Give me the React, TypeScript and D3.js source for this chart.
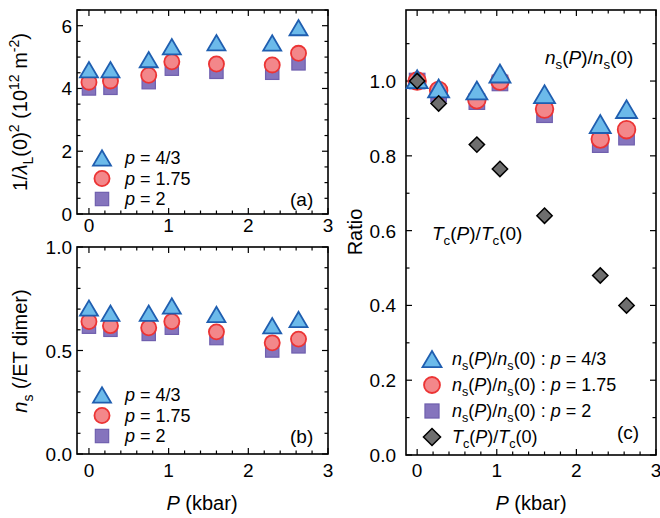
import React, { useRef, useEffect } from "react";
import * as d3 from "d3";

// pressure points (kbar)
const P = [0, 0.27, 0.75, 1.04, 1.6, 2.3, 2.63];

// (a) 1/lambda_L(0)^2 in 10^12 m^-2
const lam43 = [4.6, 4.6, 4.92, 5.33, 5.46, 5.45, 5.94];
const lam175 = [4.2, 4.24, 4.42, 4.85, 4.78, 4.75, 5.12];
const lam2 = [4.0, 4.02, 4.2, 4.63, 4.53, 4.5, 4.8];

// (b) n_s per ET dimer
const ns43 = [0.705, 0.68, 0.68, 0.715, 0.674, 0.62, 0.65];
const ns175 = [0.64, 0.62, 0.61, 0.64, 0.59, 0.537, 0.555];
const ns2 = [0.615, 0.6, 0.58, 0.61, 0.56, 0.5, 0.52];

// (c) ratios
const r43 = [1.005, 0.98, 0.975, 1.02, 0.965, 0.885, 0.925];
const r175 = [1.0, 0.975, 0.95, 1.0, 0.925, 0.845, 0.87];
const r2 = [1.0, 0.965, 0.945, 0.995, 0.91, 0.83, 0.85];
const tcRatio = [1.0, 0.94, 0.83, 0.765, 0.64, 0.48, 0.4];

const xTicks = [0, 1, 2, 3];
const aTicks = [0, 2, 4, 6];
const bTicks = [0, 0.5, 1.0];
const cTicks = [0, 0.2, 0.4, 0.6, 0.8, 1.0];

const FONT = "'Liberation Sans', Arial, sans-serif";
const TRI = { fill: "#6cbaea", stroke: "#1f5eb0" };
const CIR = { fill: "#f3878a", stroke: "#ec3434" };
const SQR = { fill: "#8574bd", stroke: "#6f5fae" };
const DIA = { fill: "#6e6e6e", stroke: "#000" };

type Part = { t: string; i?: boolean; sub?: boolean; sup?: boolean };

const rich = (sel: any, parts: Part[], size: number) => {
  let shift = 0;
  parts.forEach((p) => {
    const target = p.sub ? size * 0.28 : p.sup ? -size * 0.4 : 0;
    sel
      .append("tspan")
      .attr("dy", target - shift)
      .attr("font-size", p.sub || p.sup ? size * 0.7 : size)
      .attr("font-style", p.i ? "italic" : "normal")
      .text(p.t);
    shift = target;
  });
};

const marker = (g: any, kind: string, cx: number, cy: number, s: number) => {
  if (kind === "tri") {
    const w = s, h = s * 0.85;
    g.append("path")
      .attr("d", `M${cx - w / 2},${cy + h / 2}L${cx + w / 2},${cy + h / 2}L${cx},${cy - h / 2}Z`)
      .attr("fill", TRI.fill).attr("stroke", TRI.stroke).attr("stroke-width", 1.8).attr("stroke-linejoin", "miter");
  } else if (kind === "cir") {
    g.append("circle").attr("cx", cx).attr("cy", cy).attr("r", s * 0.42)
      .attr("fill", CIR.fill).attr("stroke", CIR.stroke).attr("stroke-width", 1.8);
  } else if (kind === "sqr") {
    const a = s * 0.74;
    g.append("rect").attr("x", cx - a / 2).attr("y", cy - a / 2).attr("width", a).attr("height", a)
      .attr("fill", SQR.fill).attr("stroke", SQR.stroke).attr("stroke-width", 1.2);
  } else {
    const r = s * 0.45;
    g.append("path")
      .attr("d", `M${cx},${cy - r}L${cx + r},${cy}L${cx},${cy + r}L${cx - r},${cy}Z`)
      .attr("fill", DIA.fill).attr("stroke", DIA.stroke).attr("stroke-width", 1.5);
  }
};

const frame = (
  g: any, x: any, y: any,
  yMajor: number[], yMinorStep: number, yFmt: (v: number) => string,
  labelGap: number, xLabelY: number
) => {
  const [x0, x1] = x.range();
  const [y0, y1] = y.range();
  const xMinor = d3.range(0, 3.001, 0.2);
  const yMinor = d3.range(0, y.domain()[1] + 1e-6, yMinorStep);
  const t = g.append("g").attr("stroke", "#000").attr("stroke-width", 1.2);
  xMinor.forEach((v) => {
    const L = xTicks.some((m) => Math.abs(m - v) < 1e-6) ? 6 : 3.5;
    t.append("line").attr("x1", x(v)).attr("x2", x(v)).attr("y1", y0).attr("y2", y0 - L);
    t.append("line").attr("x1", x(v)).attr("x2", x(v)).attr("y1", y1).attr("y2", y1 + L);
  });
  yMinor.forEach((v) => {
    const L = yMajor.some((m) => Math.abs(m - v) < 1e-6) ? 6 : 3.5;
    t.append("line").attr("y1", y(v)).attr("y2", y(v)).attr("x1", x0).attr("x2", x0 + L);
    t.append("line").attr("y1", y(v)).attr("y2", y(v)).attr("x1", x1).attr("x2", x1 - L);
  });
  g.append("rect").attr("x", x0).attr("y", y1).attr("width", x1 - x0).attr("height", y0 - y1)
    .attr("fill", "none").attr("stroke", "#000").attr("stroke-width", 1.6);
  yMajor.forEach((v) => {
    g.append("text").attr("x", x0 - labelGap).attr("y", y(v) + 7).attr("text-anchor", "end")
      .attr("font-size", 19).text(yFmt(v));
  });
  xTicks.forEach((v) => {
    g.append("text").attr("x", x(v)).attr("y", xLabelY).attr("text-anchor", "middle")
      .attr("font-size", 19).text(v);
  });
};

const App = () => {
  const svgRef = useRef<SVGSVGElement>(null);

  useEffect(() => {
    const svg = d3.select(svgRef.current);
    svg.selectAll("*").remove();
    svg.attr("font-family", FONT);

    // ---------- panel (a)
    const xa = d3.scaleLinear().domain([-0.15, 3]).range([77, 328]);
    const ya = d3.scaleLinear().domain([0, 6.5]).range([214, 10]);
    const ga = svg.append("g");
    frame(ga, xa, ya, aTicks, 0.5, (v) => String(v), 5, 232);
    [[lam2, "sqr"], [lam175, "cir"], [lam43, "tri"]].forEach(([arr, k]: any) => {
      arr.forEach((v: number, i: number) => marker(ga, k, xa(P[i]), ya(v), 18));
    });
    const legA = [["tri", "4/3"], ["cir", "1.75"], ["sqr", "2"]];
    legA.forEach(([k, lab], i) => {
      marker(ga, k, 102, 158 + i * 20.5, 18);
      const tx = ga.append("text").attr("x", 125).attr("y", 164 + i * 20.5).attr("font-size", 18);
      rich(tx, [{ t: "p", i: true }, { t: ` = ${lab}` }], 18);
    });
    ga.append("text").attr("x", 290).attr("y", 206).attr("font-size", 19).text("(a)");
    const la = ga.append("text").attr("transform", "translate(27,112) rotate(-90)")
      .attr("text-anchor", "middle").attr("font-size", 20);
    rich(la, [
      { t: "1/" }, { t: "λ", i: true }, { t: "L", sub: true }, { t: "(0)" }, { t: "2", sup: true },
      { t: " (10" }, { t: "12", sup: true }, { t: " m" }, { t: "-2", sup: true }, { t: ")" },
    ], 20);

    // ---------- panel (b)
    const yb = d3.scaleLinear().domain([0, 1]).range([454, 247]);
    const gb = svg.append("g");
    frame(gb, xa, yb, bTicks, 0.1, (v) => v.toFixed(1), 5, 477);
    [[ns2, "sqr"], [ns175, "cir"], [ns43, "tri"]].forEach(([arr, k]: any) => {
      arr.forEach((v: number, i: number) => marker(gb, k, xa(P[i]), yb(v), 18));
    });
    legA.forEach(([k, lab], i) => {
      marker(gb, k, 102, 395 + i * 20.5, 18);
      const tx = gb.append("text").attr("x", 125).attr("y", 401 + i * 20.5).attr("font-size", 18);
      rich(tx, [{ t: "p", i: true }, { t: ` = ${lab}` }], 18);
    });
    gb.append("text").attr("x", 290).attr("y", 443).attr("font-size", 19).text("(b)");
    const lb = gb.append("text").attr("transform", "translate(27,351) rotate(-90)")
      .attr("text-anchor", "middle").attr("font-size", 20);
    rich(lb, [{ t: "n", i: true }, { t: "s", sub: true }, { t: " (/ET dimer)" }], 20);
    const xb = gb.append("text").attr("x", 202).attr("y", 510).attr("text-anchor", "middle").attr("font-size", 20);
    rich(xb, [{ t: "P", i: true }, { t: " (kbar)" }], 20);

    // ---------- panel (c)
    const xc = d3.scaleLinear().domain([-0.14, 3]).range([406, 656]);
    const yc = d3.scaleLinear().domain([0, 1.19]).range([455, 10]);
    const gc = svg.append("g");
    frame(gc, xc, yc, cTicks, 0.1, (v) => v.toFixed(1), 10, 477);
    [[r2, "sqr"], [r175, "cir"], [r43, "tri"], [tcRatio, "dia"]].forEach(([arr, k]: any) => {
      arr.forEach((v: number, i: number) => marker(gc, k, xc(P[i]), yc(v), k === "dia" ? 17 : 21));
    });
    const nsPart: Part[] = [
      { t: "n", i: true }, { t: "s", sub: true }, { t: "(" }, { t: "P", i: true }, { t: ")/" },
      { t: "n", i: true }, { t: "s", sub: true }, { t: "(0)" },
    ];
    const tcPart: Part[] = [
      { t: "T", i: true }, { t: "c", sub: true }, { t: "(" }, { t: "P", i: true }, { t: ")/" },
      { t: "T", i: true }, { t: "c", sub: true }, { t: "(0)" },
    ];
    const legC: [string, Part[]][] = [
      ["tri", [...nsPart, { t: " : " }, { t: "p", i: true }, { t: " = 4/3" }]],
      ["cir", [...nsPart, { t: " : " }, { t: "p", i: true }, { t: " = 1.75" }]],
      ["sqr", [...nsPart, { t: " : " }, { t: "p", i: true }, { t: " = 2" }]],
      ["dia", tcPart],
    ];
    legC.forEach(([k, parts], i) => {
      marker(gc, k, 432, 359 + i * 26, k === "dia" ? 19 : 19);
      const tx = gc.append("text").attr("x", 452).attr("y", 365 + i * 26).attr("font-size", 18);
      rich(tx, parts, 18);
    });
    gc.append("text").attr("x", 617).attr("y", 439).attr("font-size", 19).text("(c)");
    const t1 = gc.append("text").attr("x", 545).attr("y", 64).attr("font-size", 19);
    rich(t1, nsPart, 19);
    const t2 = gc.append("text").attr("x", 432).attr("y", 240).attr("font-size", 19);
    rich(t2, tcPart, 19);
    gc.append("text").attr("transform", "translate(362,232) rotate(-90)")
      .attr("text-anchor", "middle").attr("font-size", 20).text("Ratio");
    const xcl = gc.append("text").attr("x", 531).attr("y", 510).attr("text-anchor", "middle").attr("font-size", 20);
    rich(xcl, [{ t: "P", i: true }, { t: " (kbar)" }], 20);
  }, []);

  return (
    <div style={{ position: "absolute", left: 0, top: 0 }}>
      <svg ref={svgRef} width={660} height={518} style={{ display: "block", background: "#fff" }} />
    </div>
  );
};

export default App;
